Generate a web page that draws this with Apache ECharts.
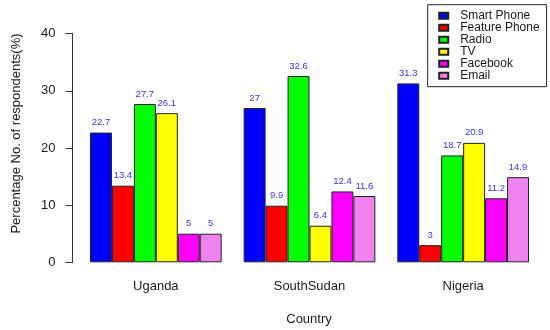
<!DOCTYPE html>
<html>
<head>
<meta charset="utf-8">
<script src="https://cdn.jsdelivr.net/npm/echarts@6/dist/echarts.min.js"></script>
<style>
html,body{margin:0;padding:0;background:#fff;}
#chart{width:550px;height:330px;}
</style>
</head>
<body>
<div id="chart"></div>
<script>
var categories = ['Uganda', 'SouthSudan', 'Nigeria'];
var seriesNames = ['Smart Phone', 'Feature Phone', 'Radio', 'TV', 'Facebook', 'Email'];
var smartPhone = [22.7, 27, 31.3];
var featurePhone = [13.4, 9.9, 3];
var radio = [27.7, 32.6, 18.7];
var tv = [26.1, 6.4, 20.9];
var facebook = [5, 12.4, 11.2];
var email = [5, 11.6, 14.9];
var yTicks = [0, 10, 20, 30, 40];
var xTitle = 'Country';
var yTitle = 'Percentage No. of respondents(%)';

var seriesValues = [smartPhone, featurePhone, radio, tv, facebook, email];
var colors = ['#0000ff', '#ff0000', '#00ff00', '#ffff00', '#ff00ff', '#ee82ee'];
var FONT = '"Liberation Sans", Arial, sans-serif';
var TEXT = '#1a1a1a';

var chart = echarts.init(document.getElementById('chart'), null, {renderer: 'canvas'});

var series = seriesNames.map(function (name, i) {
  return {
    name: name,
    type: 'bar',
    data: seriesValues[i],
    barWidth: 21.95,
    barGap: '0%',
    itemStyle: {color: colors[i], borderColor: '#222', borderWidth: 1},
    label: {
      show: true, position: 'top', distance: 5,
      fontSize: 9.5, fontFamily: FONT, color: '#3535ff'
    },
    emphasis: {disabled: true},
    animation: false
  };
});

chart.setOption({
  backgroundColor: '#ffffff',
  animation: false,
  grid: {left: 79, right: 10, top: 33.7, bottom: 67.7, containLabel: false},
  legend: {
    orient: 'vertical',
    left: 427.7, top: 4.7,
    padding: [5, 7, 5, 10.5],
    borderColor: '#222', borderWidth: 1,
    icon: 'rect',
    itemWidth: 9, itemHeight: 6, itemGap: 0,
    textStyle: {fontSize: 12, fontFamily: FONT, color: TEXT, lineHeight: 11.66, padding: [0, 0, 0, 7]},
    data: seriesNames
  },
  xAxis: {
    type: 'category',
    data: categories,
    axisLine: {show: false},
    axisTick: {show: false},
    axisLabel: {fontSize: 13, fontFamily: FONT, color: TEXT, margin: 18}
  },
  yAxis: {
    type: 'value',
    min: yTicks[0], max: yTicks[yTicks.length - 1], interval: yTicks[1] - yTicks[0],
    offset: 6.6,
    splitLine: {show: false},
    axisLine: {show: true, lineStyle: {color: '#333', width: 1}},
    axisTick: {show: true, length: 7, lineStyle: {color: '#333', width: 1}},
    axisLabel: {fontSize: 13, fontFamily: FONT, color: TEXT, margin: 17}
  },
  graphic: [
    {
      type: 'text', x: 309, y: 319,
      style: {text: xTitle, fontSize: 13, fontFamily: FONT, fill: TEXT, align: 'center', verticalAlign: 'middle'}
    },
    {
      type: 'text', x: 16, y: 133.5, rotation: Math.PI / 2,
      style: {text: yTitle, fontSize: 13, fontFamily: FONT, fill: TEXT, align: 'center', verticalAlign: 'middle'}
    }
  ],
  series: series
});
</script>
</body>
</html>
